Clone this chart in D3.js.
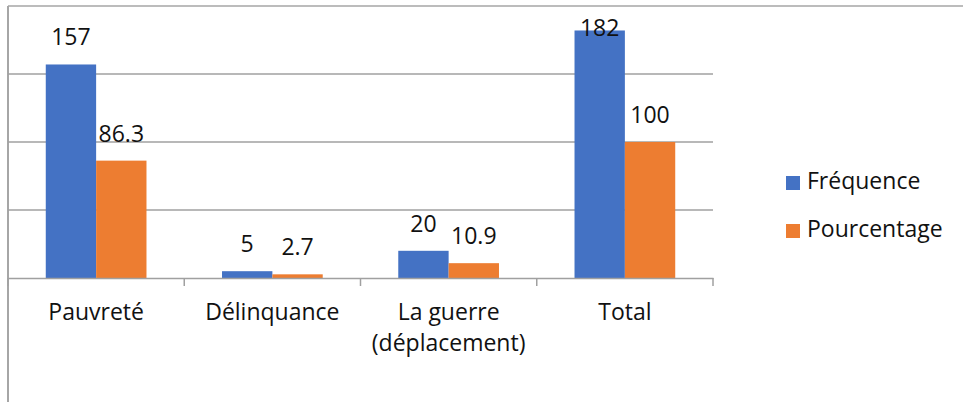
<!DOCTYPE html>
<html>
<head>
<meta charset="utf-8">
<script src="https://cdn.jsdelivr.net/npm/d3@7"></script>
<style>
  html, body { margin: 0; padding: 0; background: #fff; }
  svg { display: block; font-family: "Open Sans", "Noto Sans", sans-serif; }
</style>
</head>
<body>
<svg id="chart" width="963" height="402"></svg>
<script>
const categories = ["Pauvreté", "Délinquance", "La guerre\n(déplacement)", "Total"];
const seriesNames = ["Fréquence", "Pourcentage"];
const frequence = [157, 5, 20, 182];
const pourcentage = [86.3, 2.7, 10.9, 100];
const yTicks = [0, 50, 100, 150, 200];
const colors = ["#4472C4", "#ED7D31"];

const svg = d3.select("#chart");
const plot = { left: 8, right: 713, top: 6, bottom: 278 };

const x = d3.scaleBand().domain(categories).range([plot.left, plot.right]).padding(0);
const bw = x.bandwidth();
const barW = bw / 3.5;
const xs = d3.scaleBand().domain(seriesNames).range([0, barW * 2]).padding(0);
const y = d3.scaleLinear().domain([0, 200]).range([plot.bottom, plot.top]);

const data = categories.map((c, i) => ({ cat: c, vals: [frequence[i], pourcentage[i]] }));

// chart frame (top and left edges)
svg.append("line").attr("x1", plot.left).attr("x2", 963).attr("y1", plot.top).attr("y2", plot.top)
  .attr("stroke", "#a6a6a6").attr("stroke-width", 1.5);
svg.append("line").attr("x1", plot.left).attr("x2", plot.left).attr("y1", plot.top).attr("y2", 402)
  .attr("stroke", "#a6a6a6").attr("stroke-width", 2);

// gridlines
svg.append("g").selectAll("line").data(yTicks.filter(t => t > 0 && t < 200)).join("line")
  .attr("x1", plot.left).attr("x2", plot.right)
  .attr("y1", d => y(d)).attr("y2", d => y(d))
  .attr("stroke", "#a0a0a0").attr("stroke-width", 1.3);

// bars
const groups = svg.append("g").selectAll("g").data(data).join("g")
  .attr("transform", d => `translate(${x(d.cat) + (bw - barW * 2) / 2},0)`);
groups.selectAll("rect").data(d => d.vals.map((v, j) => ({ v, s: seriesNames[j], j }))).join("rect")
  .attr("x", d => xs(d.s)).attr("width", xs.bandwidth())
  .attr("y", d => y(d.v)).attr("height", d => y(0) - y(d.v))
  .attr("fill", d => colors[d.j]);

// value labels
groups.selectAll("text").data(d => d.vals.map((v, j) => ({ v, s: seriesNames[j], j }))).join("text")
  .attr("x", d => xs(d.s) + xs.bandwidth() / 2)
  .attr("y", d => Math.max(y(d.v) - 19, plot.top + 30))
  .attr("text-anchor", "middle").attr("font-size", 23).attr("fill", "#111")
  .text(d => d.v);

// x axis
const xAxis = d3.axisBottom(x).tickSize(0).tickFormat("");
const ax = svg.append("g").attr("transform", `translate(0,${plot.bottom})`).call(xAxis);
ax.select(".domain").attr("stroke", "#a0a0a0").attr("stroke-width", 1.5);
const bounds = categories.map(c => x(c)).concat([plot.right]);
ax.selectAll(".tickb").data(bounds).join("line").attr("class", "tickb")
  .attr("x1", d => d).attr("x2", d => d).attr("y1", 0).attr("y2", 8)
  .attr("stroke", "#a0a0a0").attr("stroke-width", 1.5);

// category labels
const lbl = svg.append("g").selectAll("text").data(categories).join("text")
  .attr("x", d => x(d) + bw / 2).attr("y", 320)
  .attr("text-anchor", "middle").attr("font-size", 23).attr("fill", "#111");
lbl.selectAll("tspan").data(d => d.split("\n").map(s => ({ s, d }))).join("tspan")
  .attr("x", d => x(d.d) + bw / 2).attr("dy", (d, i) => i === 0 ? 0 : 31).text(d => d.s);

// legend
const leg = svg.append("g").selectAll("g").data(seriesNames).join("g")
  .attr("transform", (d, i) => `translate(786,${176 + i * 48})`);
leg.append("rect").attr("width", 14).attr("height", 14).attr("fill", (d, i) => colors[i]);
leg.append("text").attr("x", 21).attr("y", 13).attr("font-size", 23).attr("fill", "#111").text(d => d);
</script>
</body>
</html>
